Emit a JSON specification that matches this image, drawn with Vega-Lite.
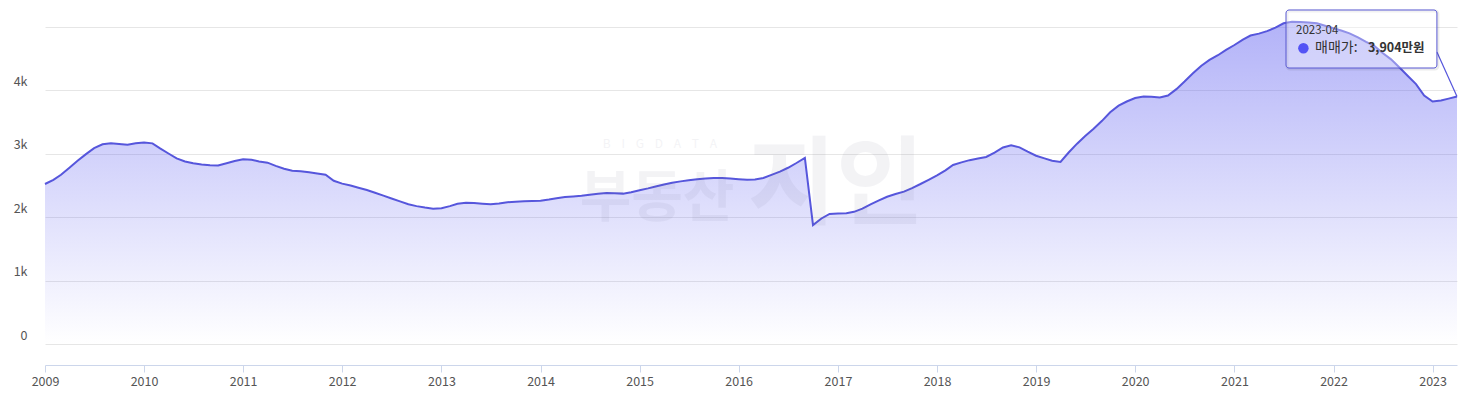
{
  "$schema": "https://vega.github.io/schema/vega-lite/v6.json",
  "width": 1412,
  "height": 338,
  "autosize": {"type": "none"},
  "padding": {"left": 45, "top": 27, "right": 12, "bottom": 45},
  "background": "#ffffff",
  "config": {
    "view": {"stroke": null},
    "font": "Noto Sans CJK KR"
  },
  "datasets": {
    "series": [
    {"m":"2009-01","v":2524},{"m":"2009-02","v":2590},{"m":"2009-03","v":2670},{"m":"2009-04","v":2780},{"m":"2009-05","v":2890},{"m":"2009-06","v":2995},{"m":"2009-07","v":3090},{"m":"2009-08","v":3150},{"m":"2009-09","v":3168},{"m":"2009-10","v":3155},{"m":"2009-11","v":3144},{"m":"2009-12","v":3165},
    {"m":"2010-01","v":3180},{"m":"2010-02","v":3165},{"m":"2010-03","v":3085},{"m":"2010-04","v":3005},{"m":"2010-05","v":2928},{"m":"2010-06","v":2880},{"m":"2010-07","v":2852},{"m":"2010-08","v":2830},{"m":"2010-09","v":2818},{"m":"2010-10","v":2815},{"m":"2010-11","v":2850},{"m":"2010-12","v":2885},
    {"m":"2011-01","v":2913},{"m":"2011-02","v":2905},{"m":"2011-03","v":2880},{"m":"2011-04","v":2860},{"m":"2011-05","v":2810},{"m":"2011-06","v":2765},{"m":"2011-07","v":2733},{"m":"2011-08","v":2726},{"m":"2011-09","v":2708},{"m":"2011-10","v":2688},{"m":"2011-11","v":2670},{"m":"2011-12","v":2575},
    {"m":"2012-01","v":2530},{"m":"2012-02","v":2500},{"m":"2012-03","v":2465},{"m":"2012-04","v":2429},{"m":"2012-05","v":2385},{"m":"2012-06","v":2340},{"m":"2012-07","v":2295},{"m":"2012-08","v":2250},{"m":"2012-09","v":2205},{"m":"2012-10","v":2175},{"m":"2012-11","v":2152},{"m":"2012-12","v":2134},
    {"m":"2013-01","v":2142},{"m":"2013-02","v":2175},{"m":"2013-03","v":2212},{"m":"2013-04","v":2227},{"m":"2013-05","v":2225},{"m":"2013-06","v":2214},{"m":"2013-07","v":2203},{"m":"2013-08","v":2218},{"m":"2013-09","v":2236},{"m":"2013-10","v":2245},{"m":"2013-11","v":2252},{"m":"2013-12","v":2257},
    {"m":"2014-01","v":2261},{"m":"2014-02","v":2280},{"m":"2014-03","v":2300},{"m":"2014-04","v":2318},{"m":"2014-05","v":2328},{"m":"2014-06","v":2338},{"m":"2014-07","v":2354},{"m":"2014-08","v":2370},{"m":"2014-09","v":2382},{"m":"2014-10","v":2378},{"m":"2014-11","v":2372},{"m":"2014-12","v":2395},
    {"m":"2015-01","v":2425},{"m":"2015-02","v":2455},{"m":"2015-03","v":2485},{"m":"2015-04","v":2515},{"m":"2015-05","v":2545},{"m":"2015-06","v":2565},{"m":"2015-07","v":2583},{"m":"2015-08","v":2600},{"m":"2015-09","v":2612},{"m":"2015-10","v":2618},{"m":"2015-11","v":2619},{"m":"2015-12","v":2612},
    {"m":"2016-01","v":2600},{"m":"2016-02","v":2590},{"m":"2016-03","v":2595},{"m":"2016-04","v":2618},{"m":"2016-05","v":2668},{"m":"2016-06","v":2720},{"m":"2016-07","v":2780},{"m":"2016-08","v":2855},{"m":"2016-09","v":2934},{"m":"2016-10","v":1877},{"m":"2016-11","v":1980},{"m":"2016-12","v":2052},
    {"m":"2017-01","v":2058},{"m":"2017-02","v":2061},{"m":"2017-03","v":2085},{"m":"2017-04","v":2135},{"m":"2017-05","v":2203},{"m":"2017-06","v":2265},{"m":"2017-07","v":2323},{"m":"2017-08","v":2365},{"m":"2017-09","v":2403},{"m":"2017-10","v":2460},{"m":"2017-11","v":2524},{"m":"2017-12","v":2590},
    {"m":"2018-01","v":2660},{"m":"2018-02","v":2740},{"m":"2018-03","v":2823},{"m":"2018-04","v":2865},{"m":"2018-05","v":2900},{"m":"2018-06","v":2925},{"m":"2018-07","v":2950},{"m":"2018-08","v":3020},{"m":"2018-09","v":3100},{"m":"2018-10","v":3135},{"m":"2018-11","v":3102},{"m":"2018-12","v":3035},
    {"m":"2019-01","v":2970},{"m":"2019-02","v":2928},{"m":"2019-03","v":2890},{"m":"2019-04","v":2871},{"m":"2019-05","v":3020},{"m":"2019-06","v":3160},{"m":"2019-07","v":3280},{"m":"2019-08","v":3395},{"m":"2019-09","v":3520},{"m":"2019-10","v":3655},{"m":"2019-11","v":3760},{"m":"2019-12","v":3825},
    {"m":"2020-01","v":3880},{"m":"2020-02","v":3905},{"m":"2020-03","v":3900},{"m":"2020-04","v":3888},{"m":"2020-05","v":3920},{"m":"2020-06","v":4020},{"m":"2020-07","v":4140},{"m":"2020-08","v":4270},{"m":"2020-09","v":4390},{"m":"2020-10","v":4480},{"m":"2020-11","v":4555},{"m":"2020-12","v":4640},
    {"m":"2021-01","v":4716},{"m":"2021-02","v":4800},{"m":"2021-03","v":4865},{"m":"2021-04","v":4895},{"m":"2021-05","v":4935},{"m":"2021-06","v":4990},{"m":"2021-07","v":5058},{"m":"2021-08","v":5083},{"m":"2021-09","v":5078},{"m":"2021-10","v":5070},{"m":"2021-11","v":5058},{"m":"2021-12","v":5020},
    {"m":"2022-01","v":4980},{"m":"2022-02","v":4940},{"m":"2022-03","v":4900},{"m":"2022-04","v":4835},{"m":"2022-05","v":4765},{"m":"2022-06","v":4700},{"m":"2022-07","v":4590},{"m":"2022-08","v":4490},{"m":"2022-09","v":4360},{"m":"2022-10","v":4230},{"m":"2022-11","v":4100},{"m":"2022-12","v":3920},
    {"m":"2023-01","v":3825},{"m":"2023-02","v":3840},{"m":"2023-03","v":3870},{"m":"2023-04","v":3904}
    ],
    "one": [{"k": 1}]
  },
  "layer": [
    {
      "data": {"name": "series"},
      "mark": {
        "type": "area",
        "fill": {
          "x1": 0, "y1": 0, "x2": 0, "y2": 1, "gradient": "linear",
          "stops": [
            {"offset": 0, "color": "rgba(88,88,240,0.46)"},
            {"offset": 1, "color": "rgba(88,88,240,0.0)"}
          ]
        }
      },
      "encoding": {
        "x": {
          "field": "m", "type": "temporal",
          "scale": {"type": "utc", "nice": false, "domain": [{"year": 2009, "month": 1, "date": 1, "utc": true}, {"year": 2023, "month": 4, "date": 1, "utc": true}]},
          "axis": {
            "title": null, "format": "%Y", "tickCount": {"interval": "year", "step": 1},
            "grid": false, "domainColor": "#ccd6eb", "tickColor": "#ccd6eb", "tickSize": 7,
            "labelFont": "Noto Sans CJK KR", "labelFontSize": 12.5, "labelColor": "#555555", "labelPadding": 3, "labelFlush": false
          }
        },
        "y": {
          "field": "v", "type": "quantitative",
          "scale": {"domain": [-331, 5000], "nice": false, "zero": false},
          "axis": {
            "title": null, "values": [0, 1000, 2000, 3000, 4000, 5000],
            "labelExpr": "datum.value >= 5000 ? '' : (datum.value == 0 ? '0' : datum.value / 1000 + 'k')",
            "grid": true, "gridColor": "#e6e6e6", "domain": false, "ticks": false,
            "labelFont": "Noto Sans CJK KR", "labelFontSize": 12.5, "labelColor": "#555555", "labelPadding": 18, "labelOffset": -9
          }
        },
        "y2": {"datum": 0}
      }
    },
    {
      "data": {"name": "series"},
      "mark": {"type": "line", "color": "#5656dc", "strokeWidth": 2},
      "encoding": {
        "x": {"field": "m", "type": "temporal"},
        "y": {"field": "v", "type": "quantitative"}
      }
    },
    {
      "data": {"name": "one"},
      "mark": {"type": "text", "text": "B\u00a0\u00a0\u00a0\u00a0I\u00a0\u00a0\u00a0\u00a0G\u00a0\u00a0\u00a0\u00a0D\u00a0\u00a0\u00a0\u00a0A\u00a0\u00a0\u00a0\u00a0T\u00a0\u00a0\u00a0\u00a0A", "fontSize": 12, "fill": "#707090", "opacity": 0.08, "align": "center", "baseline": "middle"},
      "encoding": {
        "x": {"datum": {"year": 2015, "month": 3, "date": 17, "utc": true}, "type": "temporal"},
        "y": {"datum": 3160, "type": "quantitative"}
      }
    },
    {
      "data": {"name": "one"},
      "mark": {"type": "text", "text": "부동산", "fontSize": 56, "fontWeight": "bold", "fill": "#707090", "opacity": 0.08, "align": "center", "baseline": "middle"},
      "encoding": {
        "x": {"datum": {"year": 2015, "month": 3, "date": 6, "utc": true}, "type": "temporal"},
        "y": {"datum": 2290, "type": "quantitative"}
      }
    },
    {
      "data": {"name": "one"},
      "mark": {"type": "text", "text": "지인", "fontSize": 96, "fontWeight": "bold", "fill": "#707090", "opacity": 0.08, "align": "center", "baseline": "middle"},
      "encoding": {
        "x": {"datum": {"year": 2016, "month": 12, "date": 25, "utc": true}, "type": "temporal"},
        "y": {"datum": 2476, "type": "quantitative"}
      }
    },
    {
      "data": {"name": "one"},
      "mark": {"type": "rule", "color": "#5656dc", "strokeWidth": 1.2},
      "encoding": {
        "x": {"datum": {"year": 2023, "month": 1, "date": 17, "utc": true}, "type": "temporal"},
        "y": {"datum": 4606, "type": "quantitative"},
        "x2": {"datum": {"year": 2023, "month": 4, "date": 1, "utc": true}},
        "y2": {"datum": 3904}
      }
    },
    {
      "data": {"name": "one"},
      "mark": {"type": "rect", "fill": "#000000", "fillOpacity": 0.0, "stroke": "#000000", "strokeOpacity": 0.08, "strokeWidth": 3, "xOffset": 1, "yOffset": 1, "x2Offset": 1, "y2Offset": 1, "cornerRadius": 3},
      "encoding": {
        "x": {"datum": {"year": 2021, "month": 7, "date": 10, "utc": true}, "type": "temporal"},
        "x2": {"datum": {"year": 2023, "month": 1, "date": 17, "utc": true}},
        "y": {"datum": 5268, "type": "quantitative"},
        "y2": {"datum": 4353}
      }
    },
    {
      "data": {"name": "one"},
      "mark": {"type": "rect", "fill": "#ffffff", "fillOpacity": 0.35, "stroke": "#5b5bd6", "strokeWidth": 1, "cornerRadius": 3},
      "encoding": {
        "x": {"datum": {"year": 2021, "month": 7, "date": 10, "utc": true}, "type": "temporal"},
        "x2": {"datum": {"year": 2023, "month": 1, "date": 17, "utc": true}},
        "y": {"datum": 5268, "type": "quantitative"},
        "y2": {"datum": 4353}
      }
    },
    {
      "data": {"name": "one"},
      "mark": {"type": "text", "text": "2023-04", "fontSize": 11.5, "fill": "#333333", "align": "left", "baseline": "middle"},
      "encoding": {
        "x": {"datum": {"year": 2021, "month": 8, "date": 16, "utc": true}, "type": "temporal"},
        "y": {"datum": 4942, "type": "quantitative"}
      }
    },
    {
      "data": {"name": "one"},
      "mark": {"type": "point", "shape": "circle", "filled": true, "size": 110, "color": "#5353f5", "opacity": 1},
      "encoding": {
        "x": {"datum": {"year": 2021, "month": 9, "date": 12, "utc": true}, "type": "temporal"},
        "y": {"datum": 4664, "type": "quantitative"}
      }
    },
    {
      "data": {"name": "one"},
      "mark": {"type": "text", "text": "매매가:", "fontSize": 14, "fill": "#333333", "align": "left", "baseline": "middle"},
      "encoding": {
        "x": {"datum": {"year": 2021, "month": 10, "date": 25, "utc": true}, "type": "temporal"},
        "y": {"datum": 4664, "type": "quantitative"}
      }
    },
    {
      "data": {"name": "one"},
      "mark": {"type": "text", "text": "3,904만원", "fontSize": 12.5, "fontWeight": "bold", "fill": "#333333", "align": "left", "baseline": "middle"},
      "encoding": {
        "x": {"datum": {"year": 2022, "month": 5, "date": 8, "utc": true}, "type": "temporal"},
        "y": {"datum": 4664, "type": "quantitative"}
      }
    }
  ]
}
